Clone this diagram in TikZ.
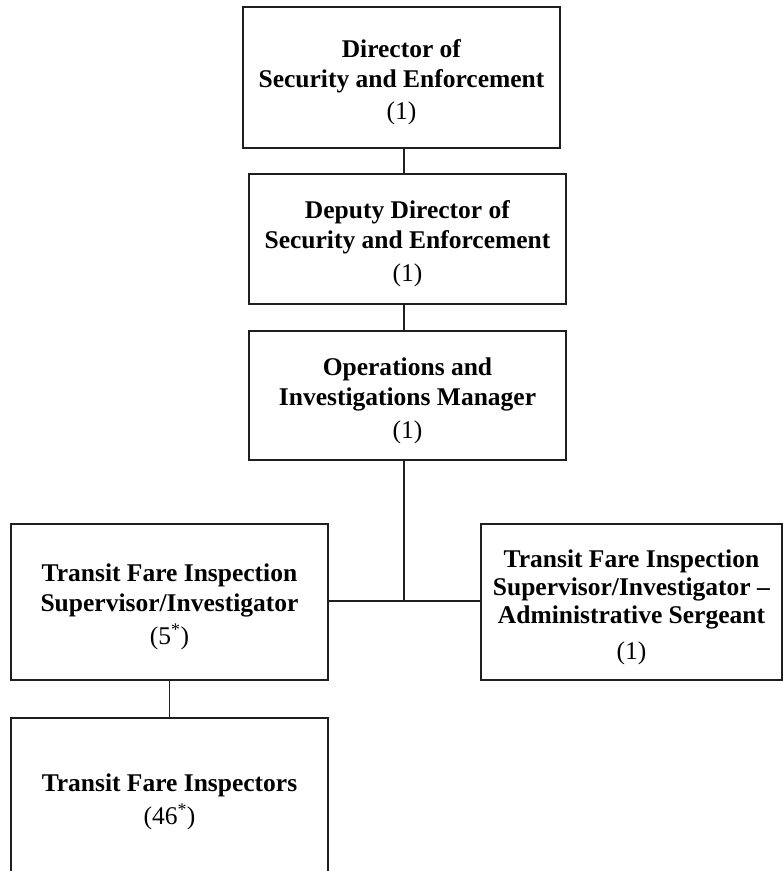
\documentclass[tikz,border=0pt]{standalone}
\usepackage{fontspec}
\setmainfont{Liberation Serif}
\begin{document}
\begin{tikzpicture}[x=1bp,y=-1bp,
  orgbox/.style={draw=black!88, line width=1.5bp, fill=white, inner sep=0pt},
  txt/.style={inner sep=0pt, align=center, yshift=-5bp,
    font=\fontsize{25.6pt}{30pt}\selectfont},
  link/.style={draw=black!88, line width=1.5bp}]
\clip (0,0) rectangle (783,871);
\fill[white] (0,0) rectangle (783,871);
\node[orgbox, minimum width=317bp, minimum height=141bp,
  label={[txt]center:{\textbf{Director of}\\\textbf{Security and Enforcement}\\[2.5bp](1)}}] (dir) at (401.5,77.5) {};
\node[orgbox, minimum width=317bp, minimum height=130bp,
  label={[txt]center:{\textbf{Deputy Director of}\\\textbf{Security and Enforcement}\\[3bp](1)}}] (dep) at (407.5,239) {};
\node[orgbox, minimum width=317bp, minimum height=129bp,
  label={[txt]center:{\textbf{Operations and}\\\textbf{Investigations Manager}\\[3bp](1)}}] (ops) at (407.5,395.5) {};
\node[orgbox, minimum width=317bp, minimum height=156bp,
  label={[txt]center:{\textbf{Transit Fare Inspection}\\\textbf{Supervisor/Investigator}\\[3bp](5\textsuperscript{*})}}] (sup) at (169.5,602) {};
\node[orgbox, minimum width=301bp, minimum height=156bp,
  label={[txt, font=\fontsize{25.6pt}{28.5pt}\selectfont]center:{\textbf{Transit Fare Inspection}\\\textbf{Supervisor/Investigator –}\\\textbf{Administrative Sergeant}\\[7bp](1)}}] (adm) at (631.5,602) {};
\node[orgbox, minimum width=317bp, minimum height=166bp,
  label={[txt, yshift=4bp]center:{\textbf{Transit Fare Inspectors}\\[3bp](46\textsuperscript{*})}}] (ins) at (169.5,801) {};
\coordinate (j) at (404,601);
\draw[link] (dir.south -| j) -- (dep.north -| j);
\draw[link] (dep.south -| j) -- (ops.north -| j);
\draw[link] (ops.south -| j) -- (j);
\draw[link] (sup.east |- j) -- (adm.west |- j);
\draw[link] (sup.south) -- (ins.north);
\end{tikzpicture}
\end{document}
